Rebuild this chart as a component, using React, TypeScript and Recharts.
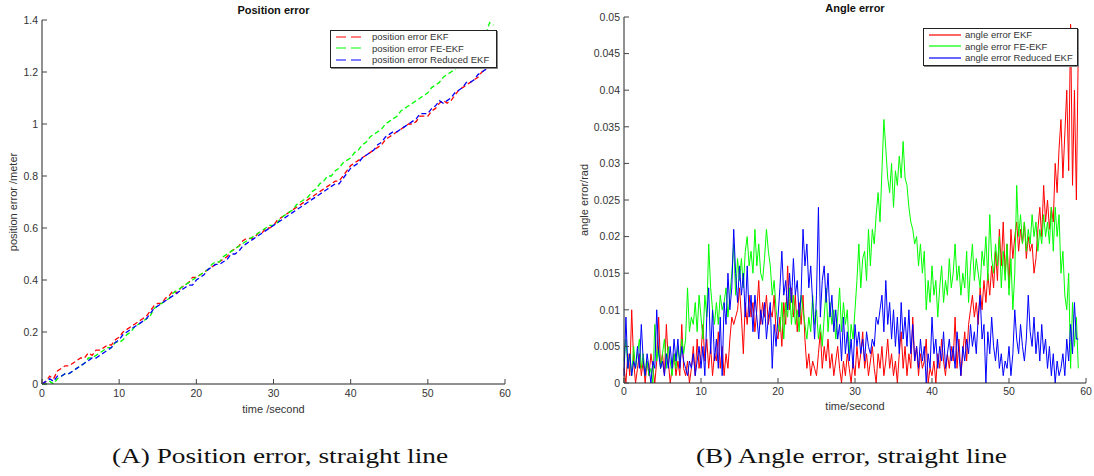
import { LineChart, Line, XAxis, YAxis, Legend } from "recharts";

const sans = "'Liberation Sans', Arial, Helvetica, sans-serif";

// shared x ticks (seconds)
const timeTicks = [0, 10, 20, 30, 40, 50, 60];
const posTicks = [0, 0.2, 0.4, 0.6, 0.8, 1, 1.2, 1.4];
const angTicks = [0, 0.005, 0.01, 0.015, 0.02, 0.025, 0.03, 0.035, 0.04, 0.045, 0.05];

// position error, sampled every 0.5 s
const POS_STEP = 0.5;
const posEkf = [
  0.00, 0.01, 0.03, 0.02, 0.05, 0.06, 0.07, 0.07, 0.08, 0.09,
  0.10, 0.10, 0.12, 0.11, 0.13, 0.13, 0.14, 0.15, 0.15, 0.17,
  0.18, 0.20, 0.21, 0.22, 0.23, 0.24, 0.25, 0.26, 0.28, 0.30,
  0.31, 0.31, 0.33, 0.34, 0.36, 0.35, 0.37, 0.38, 0.39, 0.41,
  0.41, 0.42, 0.43, 0.44, 0.45, 0.46, 0.47, 0.48, 0.49, 0.51,
  0.52, 0.53, 0.55, 0.56, 0.56, 0.56, 0.58, 0.58, 0.60, 0.60,
  0.61, 0.63, 0.64, 0.65, 0.66, 0.67, 0.68, 0.69, 0.70, 0.71,
  0.72, 0.73, 0.74, 0.75, 0.76, 0.77, 0.78, 0.78, 0.80, 0.82,
  0.84, 0.85, 0.86, 0.87, 0.88, 0.89, 0.90, 0.91, 0.92, 0.94,
  0.95, 0.96, 0.97, 0.98, 0.99, 1.00, 1.00, 1.01, 1.03, 1.03,
  1.03, 1.05, 1.06, 1.08, 1.09, 1.08, 1.09, 1.11, 1.13, 1.14,
  1.15, 1.16, 1.17, 1.18, 1.20, 1.21, 1.22, 1.23, 1.23,
];
const posFe = [
  0.00, 0.00, 0.01, 0.00, 0.02, 0.03, 0.04, 0.04, 0.05, 0.06,
  0.07, 0.08, 0.10, 0.10, 0.11, 0.12, 0.13, 0.14, 0.14, 0.16,
  0.16, 0.17, 0.19, 0.20, 0.22, 0.23, 0.24, 0.25, 0.26, 0.29,
  0.30, 0.31, 0.32, 0.33, 0.35, 0.36, 0.37, 0.38, 0.39, 0.40,
  0.41, 0.42, 0.43, 0.44, 0.46, 0.47, 0.47, 0.49, 0.50, 0.51,
  0.52, 0.53, 0.54, 0.55, 0.56, 0.57, 0.58, 0.59, 0.60, 0.61,
  0.61, 0.62, 0.64, 0.65, 0.66, 0.67, 0.69, 0.70, 0.71, 0.72,
  0.74, 0.75, 0.77, 0.78, 0.80, 0.80, 0.82, 0.83, 0.85, 0.86,
  0.87, 0.89, 0.90, 0.92, 0.93, 0.95, 0.96, 0.97, 0.98, 1.00,
  1.01, 1.02, 1.03, 1.05, 1.06, 1.07, 1.08, 1.09, 1.10, 1.11,
  1.12, 1.14, 1.15, 1.16, 1.18, 1.19, 1.20, 1.21, 1.22, 1.23,
  1.24, 1.26, 1.27, 1.29, 1.31, 1.34, 1.39, 1.38,
];
const posReduced = [
  0.00, 0.01, 0.02, 0.01, 0.03, 0.03, 0.04, 0.04, 0.05, 0.06,
  0.07, 0.08, 0.09, 0.10, 0.10, 0.11, 0.12, 0.13, 0.14, 0.16,
  0.17, 0.19, 0.20, 0.21, 0.22, 0.23, 0.24, 0.25, 0.27, 0.29,
  0.30, 0.31, 0.32, 0.33, 0.34, 0.35, 0.36, 0.37, 0.38, 0.38,
  0.40, 0.41, 0.42, 0.44, 0.45, 0.46, 0.46, 0.47, 0.48, 0.50,
  0.50, 0.51, 0.53, 0.54, 0.55, 0.56, 0.57, 0.58, 0.59, 0.60,
  0.61, 0.62, 0.63, 0.64, 0.65, 0.66, 0.67, 0.68, 0.69, 0.70,
  0.71, 0.72, 0.73, 0.74, 0.75, 0.76, 0.77, 0.77, 0.79, 0.81,
  0.83, 0.84, 0.85, 0.87, 0.88, 0.89, 0.90, 0.92, 0.93, 0.95,
  0.96, 0.97, 0.97, 0.98, 0.99, 1.00, 1.01, 1.02, 1.04, 1.04,
  1.04, 1.06, 1.07, 1.09, 1.08, 1.09, 1.10, 1.12, 1.13, 1.14,
  1.16, 1.16, 1.17, 1.19, 1.20, 1.21, 1.22, 1.24, 1.22,
];

// angle error, sampled every 0.25 s (one row = three seconds)
const ANG_STEP = 0.25;
const angEkf = [
  0.002, 0.000, 0.004, 0.001, 0.010, 0.003, 0.000, 0.002, 0.004, 0.001, 0.003, 0.000,
  0.003, 0.001, 0.004, 0.002, 0.000, 0.003, 0.009, 0.002, 0.004, 0.001, 0.008, 0.003,
  0.000, 0.002, 0.004, 0.001, 0.003, 0.001, 0.008, 0.002, 0.001, 0.003, 0.000, 0.002,
  0.005, 0.001, 0.006, 0.002, 0.004, 0.008, 0.003, 0.006, 0.002, 0.005, 0.001, 0.004,
  0.003, 0.007, 0.002, 0.005, 0.001, 0.004, 0.002, 0.006, 0.009, 0.008, 0.009, 0.010,
  0.013, 0.009, 0.004, 0.011, 0.008, 0.012, 0.009, 0.011, 0.007, 0.010, 0.014, 0.008,
  0.011, 0.009, 0.012, 0.008, 0.010, 0.009, 0.012, 0.007, 0.006, 0.009, 0.005, 0.011,
  0.008, 0.016, 0.010, 0.013, 0.009, 0.012, 0.007, 0.011, 0.008, 0.012, 0.006, 0.002,
  0.004, 0.001, 0.003, 0.002, 0.001, 0.004, 0.007, 0.002, 0.005, 0.003, 0.006, 0.002,
  0.004, 0.001, 0.003, 0.005, 0.002, 0.000, 0.003, 0.001, 0.004, 0.002, 0.000, 0.003,
  0.001, 0.005, 0.002, 0.004, 0.007, 0.002, 0.004, 0.001, 0.003, 0.005, 0.002, 0.000,
  0.004, 0.002, 0.005, 0.001, 0.003, 0.006, 0.002, 0.004, 0.001, 0.003, 0.000, 0.004,
  0.007, 0.002, 0.005, 0.001, 0.004, 0.002, 0.009, 0.003, 0.005, 0.001, 0.004, 0.002,
  0.003, 0.006, 0.000, 0.002, 0.001, 0.003, 0.000, 0.004, 0.002, 0.006, 0.003, 0.001,
  0.004, 0.002, 0.005, 0.003, 0.009, 0.002, 0.006, 0.001, 0.004, 0.007, 0.003, 0.008,
  0.010, 0.012, 0.009, 0.011, 0.008, 0.013, 0.010, 0.014, 0.011, 0.015, 0.012, 0.016,
  0.013, 0.018, 0.014, 0.021, 0.016, 0.022, 0.015, 0.019, 0.013, 0.021, 0.017, 0.020,
  0.022, 0.018, 0.021, 0.019, 0.022, 0.017, 0.020, 0.018, 0.019, 0.015, 0.017, 0.021,
  0.024, 0.020, 0.027, 0.022, 0.025, 0.021, 0.024, 0.022, 0.030, 0.026, 0.032, 0.036,
  0.028, 0.034, 0.040, 0.029, 0.049, 0.027, 0.040, 0.025, 0.046,
];
const angFe = [
  0.003, 0.006, 0.002, 0.004, 0.001, 0.005, 0.002, 0.004, 0.006, 0.002, 0.004, 0.001,
  0.003, 0.001, 0.002, 0.000, 0.008, 0.003, 0.005, 0.002, 0.004, 0.006, 0.002, 0.005,
  0.003, 0.001, 0.004, 0.002, 0.005, 0.003, 0.006, 0.004, 0.006, 0.013, 0.007, 0.009,
  0.008, 0.011, 0.007, 0.012, 0.009, 0.006, 0.012, 0.009, 0.019, 0.013, 0.010, 0.008,
  0.011, 0.008, 0.012, 0.010, 0.011, 0.013, 0.009, 0.012, 0.015, 0.019, 0.012, 0.017,
  0.014, 0.017, 0.013, 0.018, 0.020, 0.016, 0.018, 0.015, 0.021, 0.016, 0.019, 0.015,
  0.014, 0.017, 0.021, 0.018, 0.016, 0.012, 0.014, 0.010, 0.008, 0.007, 0.011, 0.006,
  0.011, 0.009, 0.013, 0.008, 0.012, 0.008, 0.010, 0.007, 0.012, 0.010, 0.008, 0.006,
  0.009, 0.007, 0.012, 0.008, 0.010, 0.006, 0.008, 0.005, 0.009, 0.013, 0.007, 0.011,
  0.008, 0.010, 0.006, 0.009, 0.013, 0.007, 0.011, 0.008, 0.010, 0.004, 0.008, 0.006,
  0.010, 0.014, 0.019, 0.013, 0.017, 0.018, 0.014, 0.021, 0.016, 0.021, 0.019, 0.023,
  0.026, 0.022, 0.029, 0.036, 0.032, 0.028, 0.026, 0.030, 0.024, 0.029, 0.027, 0.031,
  0.028, 0.033, 0.028, 0.027, 0.024, 0.022, 0.021, 0.019, 0.020, 0.016, 0.019, 0.015,
  0.018, 0.010, 0.014, 0.011, 0.016, 0.012, 0.014, 0.009, 0.013, 0.016, 0.011, 0.014,
  0.012, 0.017, 0.013, 0.015, 0.019, 0.014, 0.016, 0.012, 0.015, 0.013, 0.018, 0.011,
  0.016, 0.019, 0.014, 0.017, 0.015, 0.013, 0.018, 0.016, 0.020, 0.014, 0.023, 0.017,
  0.015, 0.019, 0.016, 0.020, 0.013, 0.018, 0.014, 0.019, 0.012, 0.017, 0.010, 0.015,
  0.027, 0.020, 0.023, 0.019, 0.022, 0.018, 0.021, 0.019, 0.023, 0.020, 0.022, 0.018,
  0.021, 0.019, 0.023, 0.020, 0.022, 0.019, 0.024, 0.018, 0.024, 0.020, 0.023, 0.015,
  0.018, 0.012, 0.010, 0.015, 0.002, 0.011, 0.005, 0.009, 0.002,
];
const angReduced = [
  0.001, 0.009, 0.002, 0.004, 0.001, 0.003, 0.002, 0.005, 0.002, 0.008, 0.003, 0.001,
  0.004, 0.002, 0.000, 0.003, 0.002, 0.010, 0.004, 0.002, 0.003, 0.001, 0.004, 0.002,
  0.005, 0.002, 0.006, 0.003, 0.006, 0.002, 0.005, 0.003, 0.002, 0.001, 0.003, 0.002,
  0.004, 0.001, 0.003, 0.005, 0.002, 0.005, 0.001, 0.009, 0.013, 0.004, 0.010, 0.003,
  0.006, 0.002, 0.009, 0.001, 0.011, 0.008, 0.015, 0.010, 0.013, 0.021, 0.015, 0.011,
  0.016, 0.012, 0.015, 0.009, 0.016, 0.009, 0.012, 0.007, 0.012, 0.009, 0.006, 0.010,
  0.008, 0.011, 0.006, 0.009, 0.011, 0.002, 0.008, 0.005, 0.009, 0.013, 0.018, 0.012,
  0.014, 0.010, 0.015, 0.011, 0.017, 0.012, 0.014, 0.009, 0.012, 0.021, 0.016, 0.019,
  0.013, 0.016, 0.011, 0.006, 0.012, 0.024, 0.009, 0.014, 0.016, 0.011, 0.015, 0.009,
  0.012, 0.007, 0.010, 0.006, 0.008, 0.003, 0.009, 0.004, 0.007, 0.003, 0.006, 0.002,
  0.008, 0.005, 0.007, 0.004, 0.006, 0.003, 0.007, 0.005, 0.004, 0.006, 0.005, 0.009,
  0.008, 0.010, 0.012, 0.007, 0.014, 0.008, 0.011, 0.006, 0.010, 0.005, 0.009, 0.004,
  0.011, 0.006, 0.009, 0.005, 0.010, 0.004, 0.008, 0.003, 0.005, 0.002, 0.006, 0.003,
  0.005, 0.000, 0.004, 0.002, 0.009, 0.004, 0.006, 0.002, 0.005, 0.003, 0.007, 0.002,
  0.004, 0.006, 0.003, 0.005, 0.002, 0.007, 0.004, 0.001, 0.005, 0.003, 0.006, 0.004,
  0.008, 0.005, 0.007, 0.004, 0.009, 0.012, 0.006, 0.008, 0.000, 0.007, 0.004, 0.009,
  0.005, 0.003, 0.006, 0.002, 0.004, 0.001, 0.003, 0.002, 0.005, 0.001, 0.004, 0.010,
  0.006, 0.004, 0.008, 0.005, 0.003, 0.006, 0.012, 0.007, 0.005, 0.009, 0.004, 0.007,
  0.003, 0.008, 0.004, 0.006, 0.002, 0.005, 0.001, 0.004, 0.000, 0.003, 0.001, 0.002,
  0.004, 0.001, 0.006, 0.003, 0.008, 0.004, 0.011, 0.006, 0.006,
];

const posSeries = [
  { key: "ekf", name: "position error EKF", color: "#ff0000" },
  { key: "fe", name: "position error FE-EKF", color: "#00ff00" },
  { key: "reduced", name: "position error Reduced EKF", color: "#0000ff" },
];
const angSeries = [
  { key: "ekf", name: "angle error EKF", color: "#ff0000" },
  { key: "fe", name: "angle error FE-EKF", color: "#00ff00" },
  { key: "reduced", name: "angle error Reduced EKF", color: "#0000ff" },
];

const posData = posEkf.map((v, i) => ({
  t: i * POS_STEP,
  ekf: v,
  fe: posFe[i] ?? null,
  reduced: posReduced[i] ?? null,
}));
const angData = angEkf.map((v, i) => ({
  t: i * ANG_STEP,
  ekf: v,
  fe: angFe[i] ?? null,
  reduced: angReduced[i] ?? null,
}));

const frame = { stroke: "#222", strokeWidth: 1 };
const tickLine = { stroke: "#444" };
const tickFont = { fill: "#333", fontSize: 10.5, fontFamily: sans };
const labelFont = { fill: "#333", fontSize: 11, fontFamily: sans };
const blank = () => "";

const LegendBox = ({ items, width, sample, gap, dash }) => (
  <div
    style={{
      width,
      boxSizing: "border-box",
      border: "1px solid #222",
      boxShadow: "1px 1px 0 #888",
      background: "#fff",
      padding: "0 4px 1px 5px",
      fontFamily: sans,
      fontSize: 9.5,
      lineHeight: "11.5px",
      color: "#333",
    }}
  >
    {items.map((s) => (
      <div key={s.key} style={{ display: "flex", alignItems: "center", height: 11.5 }}>
        <svg width={sample} height={6} style={{ flex: "none" }}>
          <line x1={0} y1={3} x2={sample} y2={3} stroke={s.color} strokeWidth={1.2} strokeDasharray={dash} />
        </svg>
        <span style={{ marginLeft: gap, whiteSpace: "nowrap" }}>{s.name}</span>
      </div>
    ))}
  </div>
);

const title = (text, cx, top) => (
  <div
    style={{
      position: "absolute",
      left: cx - 100,
      width: 200,
      top,
      textAlign: "center",
      fontFamily: sans,
      fontWeight: "bold",
      fontSize: 11,
      lineHeight: "12px",
      color: "#111",
    }}
  >
    {text}
  </div>
);

export default function App() {
  return (
    <div style={{ position: "absolute", left: 0, top: 0, width: 1094, height: 476, background: "#fff" }}>
      {title("Position error", 273.5, 4)}
      {title("Angle error", 855, 2)}

      <div style={{ position: "absolute", left: 0, top: 0 }}>
        <LineChart width={520} height={420} data={posData} margin={{ top: 20, right: 15, bottom: 7, left: 0 }}>
          <XAxis
            xAxisId="b"
            dataKey="t"
            type="number"
            domain={[0, 60]}
            ticks={timeTicks}
            interval={0}
            height={29}
            tickSize={-5}
            tickMargin={11}
            axisLine={frame}
            tickLine={tickLine}
            tick={tickFont}
            label={{ value: "time /second", position: "insideBottom", offset: 0, style: labelFont }}
          />
          <XAxis xAxisId="t" orientation="top" dataKey="t" type="number" domain={[0, 60]} ticks={timeTicks}
            interval={0} height={0} tickSize={-5} axisLine={frame} tickLine={tickLine} tickFormatter={blank} />
          <YAxis
            yAxisId="l"
            type="number"
            domain={[0, 1.4]}
            ticks={posTicks}
            interval={0}
            width={42}
            tickSize={-5}
            tickMargin={9}
            axisLine={frame}
            tickLine={tickLine}
            tick={tickFont}
            label={{ value: "position error /meter", angle: -90, position: "insideLeft", offset: 13, style: { ...labelFont, textAnchor: "middle" } }}
          />
          <YAxis yAxisId="r" orientation="right" type="number" domain={[0, 1.4]} ticks={posTicks} interval={0}
            width={0} tickSize={-5} axisLine={frame} tickLine={tickLine} tickFormatter={blank} />
          {posSeries.map((s) => (
            <Line key={s.key} xAxisId="b" yAxisId="l" type="linear" dataKey={s.key} name={s.name} stroke={s.color}
              strokeWidth={1.3} strokeDasharray="5 3" dot={false} isAnimationActive={false} />
          ))}
          <Legend
            layout="horizontal"
            verticalAlign="middle"
            align="center"
            wrapperStyle={{ left: 330, top: 30, width: "auto" }}
            content={() => <LegendBox items={posSeries} width={167} sample={27} gap={9} dash="10 5" />}
          />
        </LineChart>
      </div>

      <div style={{ position: "absolute", left: 540, top: 0 }}>
        <LineChart width={554} height={420} data={angData} margin={{ top: 17, right: 8, bottom: 10, left: 0 }}>
          <XAxis
            xAxisId="b"
            dataKey="t"
            type="number"
            domain={[0, 60]}
            ticks={timeTicks}
            interval={0}
            height={27}
            tickSize={-5}
            tickMargin={10}
            axisLine={frame}
            tickLine={tickLine}
            tick={tickFont}
            label={{ value: "time/second", position: "insideBottom", offset: 0, style: labelFont }}
          />
          <XAxis xAxisId="t" orientation="top" dataKey="t" type="number" domain={[0, 60]} ticks={timeTicks}
            interval={0} height={0} tickSize={-5} axisLine={frame} tickLine={tickLine} tickFormatter={blank} />
          <YAxis
            yAxisId="l"
            type="number"
            domain={[0, 0.05]}
            ticks={angTicks}
            interval={0}
            width={84}
            tickSize={-5}
            tickMargin={9}
            axisLine={frame}
            tickLine={tickLine}
            tick={tickFont}
            label={{ value: "angle error/rad", angle: -90, position: "insideLeft", offset: 44, style: { ...labelFont, textAnchor: "middle" } }}
          />
          <YAxis yAxisId="r" orientation="right" type="number" domain={[0, 0.05]} ticks={angTicks} interval={0}
            width={0} tickSize={-5} axisLine={frame} tickLine={tickLine} tickFormatter={blank} />
          {angSeries.map((s) => (
            <Line key={s.key} xAxisId="b" yAxisId="l" type="linear" dataKey={s.key} name={s.name} stroke={s.color}
              strokeWidth={1} dot={false} isAnimationActive={false} />
          ))}
          <Legend
            layout="horizontal"
            verticalAlign="middle"
            align="center"
            wrapperStyle={{ left: 383, top: 28, width: "auto" }}
            content={() => <LegendBox items={angSeries} width={155} sample={32} gap={4} dash={undefined} />}
          />
        </LineChart>
      </div>

      <svg width={1094} height={476} style={{ position: "absolute", left: 0, top: 0, pointerEvents: "none" }}>
        <g fontFamily="'Liberation Serif', 'Times New Roman', serif" fontSize={20} fill="#111">
          <text x={112} y={463} textLength={336} lengthAdjust="spacingAndGlyphs">(A) Position error, straight line</text>
          <text x={696} y={463} textLength={311} lengthAdjust="spacingAndGlyphs">(B) Angle error, straight line</text>
        </g>
      </svg>
    </div>
  );
}
